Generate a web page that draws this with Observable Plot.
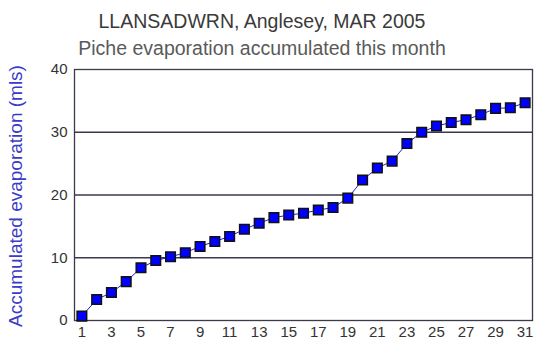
<!DOCTYPE html>
<html>
<head>
<meta charset="utf-8">
<script src="https://cdn.jsdelivr.net/npm/d3@7"></script>
<script src="https://cdn.jsdelivr.net/npm/@observablehq/plot@0.6"></script>
<style>
  html, body { margin: 0; padding: 0; background: #fff; }
  #wrap { position: relative; width: 542px; height: 356px; font-family: "Liberation Sans", Arial, sans-serif; }
  .t { position: absolute; left: 0; width: 524px; text-align: center; font-size: 19.5px; line-height: 1; white-space: nowrap; }
  #title { top: 12px; color: #3a3a3a; }
  #subtitle { top: 38.5px; color: #5a5a5a; }
  #ylabel { position: absolute; left: 15px; top: 196px; font-size: 19px; line-height: 1; white-space: nowrap; color: #3b3bc8;
            transform: translate(-50%, -50%) rotate(-90deg); }
</style>
</head>
<body>
<div id="wrap">
  <div id="chart"></div>
  <div class="t" id="title">LLANSADWRN, Anglesey, MAR 2005</div>
  <div class="t" id="subtitle">Piche evaporation accumulated this month</div>
  <div id="ylabel"></div>
</div>
<script>
const days = d3.range(1, 32);
const accumulated = [0.7, 3.35, 4.45, 6.2, 8.4, 9.55, 10.15, 10.8, 11.8, 12.6,
  13.4, 14.55, 15.5, 16.4, 16.8, 17.1, 17.6, 18.0, 19.5, 22.4,
  24.3, 25.4, 28.2, 30.0, 31.0, 31.55, 32.0, 32.8, 33.8, 33.9, 34.7];
const xTicks = [1, 3, 5, 7, 9, 11, 13, 15, 17, 19, 21, 23, 25, 27, 29, 31];
const yTicks = [0, 10, 20, 30, 40];
const gridLines = [10, 20, 30];
const yLabel = "Accumulated evaporation (mls)";

document.getElementById("ylabel").textContent = yLabel;

const data = days.map((d, i) => ({day: d, value: accumulated[i]}));

const chart = Plot.plot({
  width: 542,
  height: 356,
  marginTop: 69,
  marginBottom: 36,
  marginLeft: 74,
  marginRight: 10,
  style: {fontFamily: "Liberation Sans, Arial, sans-serif", fontSize: "15px", color: "#333", background: "#fff"},
  x: {domain: [0.5, 31.5]},
  y: {domain: [0, 40]},
  marks: [
    Plot.ruleY(gridLines, {stroke: "#3a3a4a", strokeWidth: 1.3}),
    Plot.frame({stroke: "#3a3a4a", strokeWidth: 1.3}),
    Plot.axisX({ticks: xTicks, tickSize: 0, tickPadding: 6, label: null, tickFormat: d => String(d), fill: "#333"}),
    Plot.axisY({ticks: yTicks, tickSize: 0, tickPadding: 7, label: null, fill: "#333"}),
    Plot.line(data, {x: "day", y: "value", stroke: "#2020e0", strokeWidth: 1}),
    Plot.dot(data, {x: "day", y: "value", symbol: "square", r: 5.4, fill: "#0000ff", stroke: "#111", strokeWidth: 1.5})
  ]
});
document.getElementById("chart").appendChild(chart);
</script>
</body>
</html>
